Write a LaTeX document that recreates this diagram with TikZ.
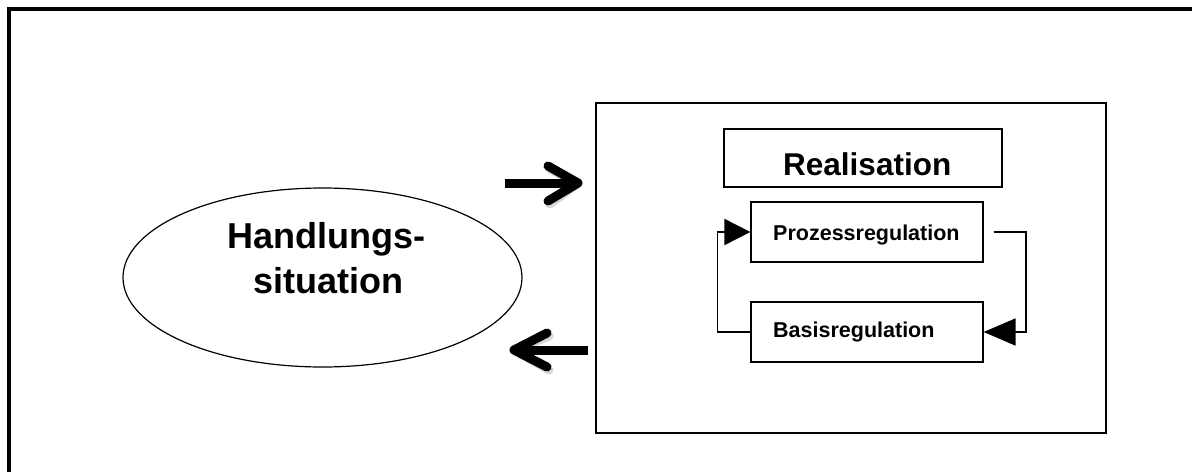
\documentclass[tikz,border=0pt]{standalone}
\usepackage{fontspec}
\setmainfont{Liberation Sans}
\usetikzlibrary{arrows.meta,shapes.geometric}
\begin{document}
\begin{tikzpicture}[x=1pt,y=-1pt,
  thinbox/.style={draw=black,line width=1.2pt,rectangle,inner sep=0pt},
  bigtext/.style={font=\fontsize{36}{42}\selectfont\bfseries,inner sep=0pt},
  midtext/.style={font=\fontsize{31.5}{36}\selectfont\bfseries,inner sep=0pt},
  smalltext/.style={font=\fontsize{21.5}{25}\selectfont\bfseries,inner sep=0pt},
  loopline/.style={draw=black,line width=1.8pt},
  fatarrow/.style={draw=black,line width=9pt,line cap=round,line join=round},
  fatshadow/.style={draw=black!35,line width=9pt,line cap=round,line join=round,opacity=0.45}]
\useasboundingbox (0,0) rectangle (1192,472);
% outer frame (open to right and bottom)
\draw[line width=3.5pt] (9,472) -- (9,9) -- (1192,9);
% ellipse
\node[draw=black,line width=1.2pt,ellipse,minimum width=399pt,minimum height=179pt,inner sep=0pt] (E) at (322.5,277.5) {};
\node[bigtext,anchor=base] (h1) at (326,248) {Handlungs-};
\node[bigtext,anchor=base] (h2) at (328,293) {situation};
% big box
\node[thinbox,minimum width=510pt,minimum height=330pt] (R) at (851,268) {};
% Realisation
\node[thinbox,minimum width=278pt,minimum height=58pt] (RB) at (863,158) {};
\node[midtext,anchor=base west] (rt) at (783,175) {Realisation};
% Prozess / Basis
\node[thinbox,minimum width=232pt,minimum height=60pt] (P) at (867,232) {};
\node[smalltext,anchor=base west] (pt) at (773,240) {Prozessregulation};
\node[thinbox,minimum width=232pt,minimum height=60pt] (B) at (867,332) {};
\node[smalltext,anchor=base west] (bt) at (773,337) {Basisregulation};
% loop
\coordinate (ps) at ([xshift=10pt]P.east);
\draw[loopline,-{Triangle[length=26pt,width=26pt]}] (B.west) -- ++(-33,0) |- (P.west);
\draw[loopline,-{Triangle[length=32pt,width=27pt]}] (ps) -- ++(32,0) |- (B.east);
% big arrows
\coordinate (a1s) at (505,183);
\coordinate (a1t) at (578,183);
\coordinate (a2s) at (588,350);
\coordinate (a2t) at (514,350);
\begin{scope}[xshift=2pt,yshift=-3pt]
\draw[fatshadow,line cap=butt] (a1s) -- (a1t);
\draw[fatshadow] (548,166) -- (a1t) -- (548,201);
\draw[fatshadow,line cap=butt] (a2s) -- (a2t);
\draw[fatshadow] (547,333) -- (a2t) -- (547,367);
\end{scope}
\draw[fatarrow,line cap=butt] (a1s) -- ([xshift=-4pt]a1t);
\draw[fatarrow] (548,166) -- (a1t) -- (548,201);
\draw[fatarrow,line cap=butt] (a2s) -- ([xshift=4pt]a2t);
\draw[fatarrow] (547,333) -- (a2t) -- (547,367);
\end{tikzpicture}
\end{document}
